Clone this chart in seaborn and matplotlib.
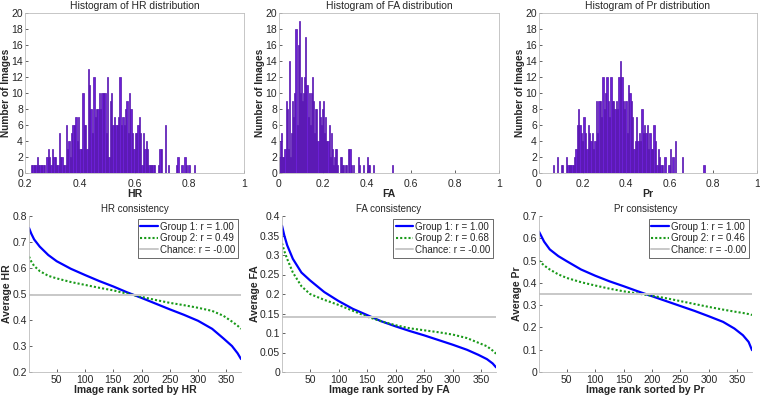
import numpy as np
import pandas as pd
import seaborn as sns
import matplotlib.pyplot as plt
from matplotlib.ticker import FuncFormatter, MultipleLocator

sns.set_style('ticks')
plt.rcParams['font.family'] = ['Liberation Sans', 'DejaVu Sans']
plt.rcParams['xtick.direction'] = 'in'
plt.rcParams['ytick.direction'] = 'in'

# histogram counts per bin, and the value range they cover
hr_counts = [1, 1, 1, 1, 2, 1, 1, 1, 1, 1,
             0, 2, 3, 2, 1, 3, 2, 2, 1, 1,
             5, 2, 2, 1, 1, 6, 3, 4, 2, 5,
             6, 6, 7, 4, 7, 3, 3, 10, 6, 6,
             3, 13, 11, 8, 5, 12, 7, 8, 8, 10,
             8, 10, 10, 10, 5, 12, 2, 9, 10, 6,
             7, 6, 6, 7, 12, 6, 7, 6, 8, 9,
             5, 10, 8, 5, 3, 5, 5, 6, 7, 5,
             1, 5, 3, 4, 3, 1, 1, 1, 1, 1,
             0, 0, 1, 3, 3, 0, 0, 6, 0, 1,
             0, 0, 0, 0, 0, 1, 2, 0, 0, 1,
             0, 2, 1, 0, 1, 0, 0, 0, 1]
hr_range = (0.222, 0.822)

fa_counts = [2, 4, 5, 2, 2, 3, 9, 8, 3, 14,
             2, 5, 9, 7, 10, 18, 6, 16, 19, 10,
             12, 9, 10, 12, 17, 11, 7, 10, 6, 10,
             12, 9, 5, 8, 8, 4, 9, 7, 6, 8,
             9, 5, 7, 4, 4, 6, 2, 5, 3, 1,
             2, 3, 3, 1, 0, 2, 2, 1, 1, 0,
             1, 1, 0, 3, 3, 1, 0, 1, 0, 0,
             0, 0, 2, 1, 0, 0, 1, 0, 0, 0,
             2, 1, 1, 0, 0, 1, 0, 0, 0, 0,
             0, 0, 0, 0, 0, 0, 0, 0, 0, 0,
             0, 0, 0, 1]
fa_range = (0.0, 0.52)

pr_counts = [1, 0, 0, 2, 0, 0, 1, 1, 0, 0,
             2, 1, 1, 1, 1, 1, 2, 3, 6, 8,
             6, 5, 4, 7, 5, 3, 6, 5, 4, 5,
             3, 4, 9, 5, 9, 9, 7, 12, 8, 10,
             12, 9, 7, 12, 9, 9, 8, 9, 8, 12,
             14, 12, 9, 8, 9, 5, 11, 10, 9, 7,
             3, 4, 7, 4, 5, 4, 8, 5, 6, 5,
             6, 3, 5, 3, 3, 6, 4, 1, 3, 2,
             1, 1, 0, 2, 0, 0, 1, 3, 0, 2,
             0, 4, 0, 0, 0, 0, 2, 0, 0, 0,
             0, 0, 0, 0, 0, 0, 0, 0, 0, 0,
             0, 0, 1]
pr_range = (0.062, 0.760)

# consistency curves, sampled at these image ranks
ranks = [1, 5, 10, 20, 35, 50, 75, 100, 125, 150, 175, 200, 225, 250, 275, 300, 325, 345, 360, 370, 376]

hr_group1 = [0.754, 0.732, 0.710, 0.682, 0.650, 0.626, 0.597, 0.573, 0.550, 0.529, 0.506,
             0.485, 0.463, 0.441, 0.420, 0.397, 0.366, 0.329, 0.300, 0.272, 0.250]
hr_group2 = [0.644, 0.625, 0.608, 0.588, 0.570, 0.560, 0.546, 0.535, 0.524, 0.514, 0.501,
             0.489, 0.477, 0.466, 0.457, 0.447, 0.435, 0.416, 0.394, 0.378, 0.366]
hr_chance = 0.496

fa_group1 = [0.375, 0.350, 0.325, 0.290, 0.255, 0.235, 0.205, 0.182, 0.162, 0.146, 0.130,
             0.117, 0.105, 0.094, 0.082, 0.070, 0.057, 0.044, 0.033, 0.022, 0.012]
fa_group2 = [0.330, 0.310, 0.290, 0.255, 0.220, 0.200, 0.185, 0.172, 0.157, 0.142, 0.130,
             0.120, 0.112, 0.107, 0.102, 0.096, 0.087, 0.075, 0.066, 0.055, 0.047]
fa_chance = 0.140

pr_group1 = [0.630, 0.610, 0.585, 0.550, 0.520, 0.497, 0.460, 0.432, 0.407, 0.385, 0.362,
             0.340, 0.318, 0.296, 0.274, 0.250, 0.225, 0.195, 0.165, 0.135, 0.098]
pr_group2 = [0.500, 0.490, 0.478, 0.460, 0.438, 0.422, 0.403, 0.388, 0.374, 0.362, 0.352,
             0.342, 0.331, 0.318, 0.305, 0.292, 0.280, 0.271, 0.265, 0.260, 0.256]
pr_chance = 0.352

r_values = {'HR': (1.00, 0.49, -0.00), 'FA': (1.00, 0.68, -0.00), 'Pr': (1.00, 0.46, -0.00)}

fmt = FuncFormatter(lambda v, p: f'{v:g}')
TXT = '#262626'

fig = plt.figure(figsize=(7.6, 4.0), dpi=100)

top_boxes = [[0.0330, 0.5675, 0.2880, 0.400],
             [0.3671, 0.5675, 0.2895, 0.400],
             [0.7092, 0.5675, 0.2868, 0.400]]
bot_boxes = [[0.0382, 0.0700, 0.2789, 0.3900],
             [0.3711, 0.0700, 0.2816, 0.3900],
             [0.7092, 0.0700, 0.2803, 0.3900]]

hists = [('HR', hr_counts, hr_range, 0.2),
         ('FA', fa_counts, fa_range, 0.0),
         ('Pr', pr_counts, pr_range, 0.0)]

for box, (name, counts, rng, xmin) in zip(top_boxes, hists):
    ax = fig.add_axes(box)
    edges = np.linspace(rng[0], rng[1], len(counts) + 1)
    df = pd.DataFrame({'value': (edges[:-1] + edges[1:]) / 2, 'count': counts})
    sns.histplot(data=df, x='value', weights='count', bins=edges.tolist(), ax=ax,
                 color='#6c1fd6', edgecolor='#5514ad', linewidth=0.5, alpha=1)
    ax.set_xlim(xmin, 1)
    ax.set_ylim(0, 20)
    ax.yaxis.set_major_locator(MultipleLocator(2))
    ax.xaxis.set_major_locator(MultipleLocator(0.2))
    ax.xaxis.set_major_formatter(fmt)
    ax.set_title(f'Histogram of {name} distribution', fontsize=7.5, color=TXT, pad=3)
    ax.set_xlabel(name, fontsize=7.5, fontweight='bold', labelpad=0)
    ax.set_ylabel('Number of Images', fontsize=7.3, fontweight='bold', labelpad=0)
    ax.tick_params(labelsize=7.5, colors=TXT, length=2, width=0.5)
    ax.tick_params(axis='x', pad=4)
    ax.tick_params(axis='y', pad=1.5)
    for s in ax.spines.values():
        s.set_color('#bdbdbd')
        s.set_linewidth(0.6)

lines = [('HR', hr_group1, hr_group2, hr_chance, (0.2, 0.8), 0.1),
         ('FA', fa_group1, fa_group2, fa_chance, (0.0, 0.4), 0.05),
         ('Pr', pr_group1, pr_group2, pr_chance, (0.0, 0.7), 0.1)]

for box, (name, g1, g2, chance, ylim, ystep) in zip(bot_boxes, lines):
    ax = fig.add_axes(box)
    r1, r2, rc = r_values[name]
    sns.lineplot(x=ranks, y=g1, ax=ax, color='#0000ff', linewidth=1.6,
                 label=f'Group 1: r = {r1:.2f}')
    sns.lineplot(x=ranks, y=g2, ax=ax, color='#1a9a1a', linewidth=1.5, linestyle=(0, (1, 1)),
                 label=f'Group 2: r = {r2:.2f}')
    sns.lineplot(x=[ranks[0], ranks[-1]], y=[chance, chance], ax=ax, color='#c8c8c8',
                 linewidth=1.4, label=f'Chance: r = {rc:.2f}')
    ax.set_xlim(ranks[0], ranks[-1])
    ax.set_ylim(*ylim)
    ax.yaxis.set_major_locator(MultipleLocator(ystep))
    ax.yaxis.set_major_formatter(fmt)
    ax.xaxis.set_major_locator(MultipleLocator(50))
    ax.set_title(f'{name} consistency', fontsize=7, color=TXT, pad=3)
    ax.set_xlabel(f'Image rank sorted by {name}', fontsize=7.5, fontweight='bold', labelpad=0)
    ax.set_ylabel(f'Average {name}', fontsize=7.5, fontweight='bold', labelpad=0)
    ax.tick_params(labelsize=7.5, colors=TXT, length=2, width=0.5, pad=2)
    ax.tick_params(axis='y', pad=1.5)
    sns.despine(ax=ax)
    for s in ax.spines.values():
        s.set_color('#bdbdbd')
        s.set_linewidth(0.6)
    leg = ax.legend(loc='upper right', fontsize=7, frameon=True, fancybox=False,
                    borderpad=0.3, labelspacing=0.15, handlelength=1.8, handletextpad=0.2,
                    borderaxespad=0.3)
    leg.get_frame().set_edgecolor('#262626')
    leg.get_frame().set_linewidth(0.6)

fig.savefig('out.png', dpi=100, facecolor='white')
